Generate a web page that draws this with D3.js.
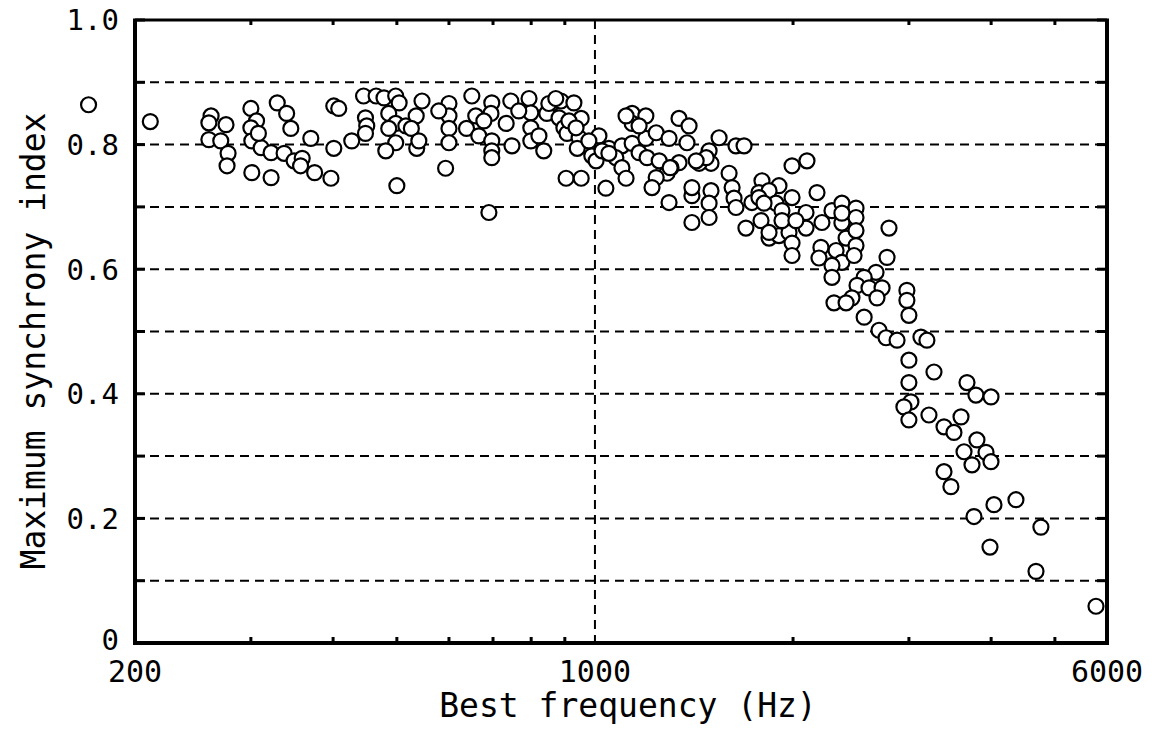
<!DOCTYPE html>
<html>
<head>
<meta charset="utf-8">
<script src="https://d3js.org/d3.v7.min.js"></script>
<style>
	body{margin:0;background:#fff;}
	text{font-family:"DejaVu Sans Mono",monospace;fill:#000;}
	.grid{stroke:#000;stroke-width:2;stroke-dasharray:9,6;fill:none;}
	.frame{stroke:#000;fill:none;}
	.tick{stroke:#000;stroke-width:3;}
	.dot{fill:#fff;stroke:#000;stroke-width:2.2;}
</style>
</head>
<body>
<script>
	// best frequency (Hz) and max synchrony index
	var bfLow = [170,211,261,259,259,275,270,277,276,300,306,300,301,311,322,329,340,345,337,349,
		359,370,375,301,322,397,401,401,408,427,445,465,478,498,504,486,448,450,448,498,
		516,535,526,546,498,481,536,500,600,600,600,600,593,
		308,357,486,579,540];
	var siLow = [0.864,0.837,0.846,0.835,0.808,0.832,0.806,0.786,0.766,0.858,0.838,0.827,0.806,0.795,0.787,0.867,0.850,0.826,0.786,0.774,
		0.778,0.810,0.755,0.755,0.747,0.746,0.794,0.862,0.858,0.806,0.878,0.878,0.875,0.878,0.867,0.850,0.843,0.830,0.818,0.834,
		0.830,0.846,0.826,0.870,0.803,0.790,0.794,0.734,0.866,0.846,0.826,0.803,0.762,
		0.818,0.766,0.826,0.854,0.806];

	var bfMid = [650,697,745,794,860,888,929,659,695,733,638,666,697,697,697,748,799,799,799,836,
		845,882,897,907,953,946,940,904,953,690,1014,989,1004,1039,1050,1099,1076,1099,1139,1139,
		1195,1139,1167,1200,1195,1115,
		678,766,822,851,872,913,936,979,1025,1050,1115,1167];
	var siMid = [0.878,0.867,0.870,0.874,0.866,0.870,0.867,0.846,0.850,0.834,0.826,0.814,0.806,0.790,0.779,0.798,0.851,0.827,0.806,0.790,
		0.850,0.843,0.827,0.818,0.842,0.811,0.794,0.746,0.746,0.691,0.814,0.782,0.774,0.730,0.794,0.798,0.779,0.763,0.850,0.834,
		0.846,0.802,0.787,0.779,0.810,0.746,
		0.838,0.854,0.814,0.866,0.874,0.838,0.827,0.806,0.790,0.786,0.846,0.830];

	var bfUpper = [1239,1296,1342,1390,1380,1544,1638,1685,1491,1501,1440,1342,1305,1287,1239,1221,1599,1616,1627,1638,
		1501,1491,1491,1404,1404,1296,1794,1904,1993,1993,2100,2175,1775,1839,1732,1884,1924,1696,1788,1839,
		1904,1972,1993,1993,2093,2093,2213,2292,2373,2373,2493,2493,2408,2798,
		1252,1301,1404,1476,1425,1775,1807,1924,2020,1839,2373,2493,2325];
	var siUpper = [0.819,0.810,0.842,0.830,0.803,0.811,0.798,0.798,0.790,0.770,0.770,0.771,0.763,0.754,0.747,0.731,0.754,0.731,0.714,0.699,
		0.726,0.706,0.683,0.718,0.675,0.707,0.742,0.734,0.715,0.766,0.774,0.723,0.723,0.726,0.707,0.706,0.694,0.666,0.678,0.650,
		0.654,0.659,0.642,0.622,0.691,0.666,0.675,0.694,0.706,0.674,0.698,0.683,0.650,0.666,
		0.774,0.763,0.731,0.779,0.774,0.715,0.706,0.678,0.678,0.659,0.690,0.662,0.630];

	var bfHigh = [2205,2493,2190,2373,2476,2292,2779,2292,2674,2565,2502,2609,2731,2683,2458,2308,2408,2565,2979,2979,
		3000,2702,2769,2878,3129,3195];
	var siHigh = [0.635,0.638,0.618,0.611,0.622,0.606,0.619,0.587,0.595,0.587,0.574,0.570,0.570,0.554,0.554,0.546,0.546,0.523,0.566,0.550,
		0.526,0.502,0.490,0.486,0.491,0.486];

	var bfTop = [3000,3275,3676,3793,3998,3000,3021,2948,3000,3218,3392,3600,3512,3806,3638,3929,3998,3741,3392,3475,
		3767,4040,4363,4761,3984,4680,5773];
	var siTop = [0.454,0.435,0.418,0.398,0.395,0.418,0.387,0.379,0.358,0.366,0.347,0.363,0.338,0.326,0.307,0.306,0.291,0.286,0.275,0.251,
		0.203,0.222,0.230,0.186,0.154,0.115,0.059];

	var gridY = [0.1,0.2,0.3,0.4,0.5,0.6,0.7,0.8,0.9];
	var yTicks = [0,0.1,0.2,0.3,0.4,0.5,0.6,0.7,0.8,0.9,1.0];
	var yLabels = [0,0.2,0.4,0.6,0.8,1.0];
	var xLabels = [200,1000,6000];
	var xMinor = [300,400,500,600,700,800,900,2000,3000,4000,5000];

	var bf = bfLow.concat(bfMid, bfUpper, bfHigh, bfTop);
	var si = siLow.concat(siMid, siUpper, siHigh, siTop);
	var points = bf.map(function(f, i){ return {bf: f, si: si[i]}; });

	var svg = d3.select("body").append("svg").attr("width", 1153).attr("height", 730);

	var x = d3.scaleLog().domain([200, 6000]).range([135, 1107]);
	var y = d3.scaleLinear().domain([0, 1]).range([643, 20]);

	// dashed grid
	svg.append("g").selectAll("line").data(gridY).enter().append("line")
		.attr("class", "grid")
		.attr("x1", x(200)).attr("x2", x(6000))
		.attr("y1", function(d){return y(d);}).attr("y2", function(d){return y(d);});
	svg.append("line").attr("class", "grid")
		.attr("x1", x(1000)).attr("x2", x(1000))
		.attr("y1", y(1)).attr("y2", y(0));

	// circles
	svg.append("g").selectAll("circle").data(points).enter().append("circle")
		.attr("class", "dot")
		.attr("cx", function(d){return x(d.bf);})
		.attr("cy", function(d){return y(d.si);})
		.attr("r", 7.5);

	// frame
	svg.append("line").attr("class", "frame").attr("stroke-width", 4)
		.attr("x1", x(200)).attr("x2", x(200)).attr("y1", y(1) - 1).attr("y2", y(0) + 2);
	svg.append("line").attr("class", "frame").attr("stroke-width", 4)
		.attr("x1", x(6000)).attr("x2", x(6000)).attr("y1", y(1) - 1).attr("y2", y(0) + 2);
	svg.append("line").attr("class", "frame").attr("stroke-width", 4)
		.attr("x1", x(200) - 2).attr("x2", x(6000) + 2).attr("y1", y(0)).attr("y2", y(0));
	svg.append("line").attr("class", "frame").attr("stroke-width", 3)
		.attr("x1", x(200) - 2).attr("x2", x(6000) + 2).attr("y1", y(1)).attr("y2", y(1));

	// ticks
	var ticks = svg.append("g");
	ticks.selectAll(".yl").data(yTicks).enter().append("line").attr("class", "tick")
		.attr("x1", x(200)).attr("x2", x(200) + 10)
		.attr("y1", function(d){return y(d);}).attr("y2", function(d){return y(d);});
	ticks.selectAll(".yr").data(yTicks).enter().append("line").attr("class", "tick")
		.attr("x1", x(6000) - 10).attr("x2", x(6000))
		.attr("y1", function(d){return y(d);}).attr("y2", function(d){return y(d);});
	ticks.selectAll(".xb").data(xMinor).enter().append("line").attr("class", "tick")
		.attr("x1", function(d){return x(d);}).attr("x2", function(d){return x(d);})
		.attr("y1", y(0)).attr("y2", y(0) - 6);
	ticks.selectAll(".xt").data(xMinor).enter().append("line").attr("class", "tick")
		.attr("x1", function(d){return x(d);}).attr("x2", function(d){return x(d);})
		.attr("y1", y(1)).attr("y2", y(1) + 5);

	// tick labels
	svg.append("g").selectAll("text").data(yLabels).enter().append("text")
		.attr("x", 119).attr("y", function(d){return d === 0 ? y(d) - 3 : y(d);})
		.attr("dy", "0.36em")
		.attr("text-anchor", "end")
		.style("font-size", "29px")
		.text(function(d){return d === 0 ? "0" : d.toFixed(1);});
	svg.append("g").selectAll("text").data(xLabels).enter().append("text")
		.attr("x", function(d){return x(d);}).attr("y", 682)
		.attr("text-anchor", "middle")
		.style("font-size", "30px")
		.text(function(d){return d;});

	// axis titles
	svg.append("text").attr("x", 628).attr("y", 717)
		.attr("text-anchor", "middle").style("font-size", "33px")
		.text("Best frequency (Hz)");
	svg.append("text").attr("transform", "translate(45,341) rotate(-90)")
		.attr("text-anchor", "middle").style("font-size", "33px")
		.text("Maximum synchrony index");
</script>
</body>
</html>
